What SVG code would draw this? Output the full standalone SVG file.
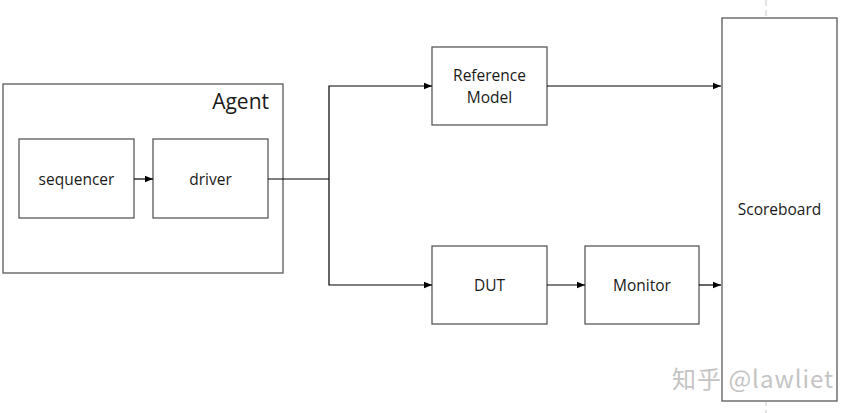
<svg xmlns="http://www.w3.org/2000/svg" width="856" height="413" viewBox="0 0 856 413">
<style>
.box{fill:#fff;stroke:#595959;stroke-width:1.3}
.lbl{font-family:"Open Sans","Noto Sans",sans-serif;font-size:15.5px;fill:#1a1a1a;text-anchor:middle}
.con{fill:none;stroke:#000;stroke-width:1.2}
</style>
<defs>
<marker id="arr" viewBox="0 0 10 10" refX="10" refY="5" markerWidth="10" markerHeight="8" markerUnits="userSpaceOnUse" orient="auto">
<path d="M0,1 L10,5 L0,9 Z" fill="#000"/>
</marker>
</defs>
<rect width="856" height="413" fill="#fff"/>
<line x1="766" y1="0" x2="766" y2="413" stroke="#c8c8c8" stroke-width="1" stroke-dasharray="6,4"/>
<g id="agent">
<rect class="box" x="3" y="84" width="280" height="189"/>
<text x="269" y="109" font-family="'Open Sans','Noto Sans',sans-serif" font-size="21" fill="#1a1a1a" text-anchor="end">Agent</text>
</g>
<g id="sequencer">
<rect class="box" x="19" y="139" width="115" height="79"/>
<text class="lbl" x="76.5" y="184.5">sequencer</text>
</g>
<g id="driver">
<rect class="box" x="153" y="139" width="115" height="79"/>
<text class="lbl" x="210.5" y="184.5">driver</text>
</g>
<g id="refmodel">
<rect class="box" x="432" y="47" width="115" height="78"/>
<text class="lbl" x="489.5" y="80.5">Reference</text>
<text class="lbl" x="489.5" y="102.5">Model</text>
</g>
<g id="dut">
<rect class="box" x="432" y="246" width="115" height="78"/>
<text class="lbl" x="489.5" y="290.5">DUT</text>
</g>
<g id="monitor">
<rect class="box" x="585" y="246" width="114" height="78"/>
<text class="lbl" x="642" y="290.5">Monitor</text>
</g>
<g id="scoreboard">
<rect class="box" x="722" y="18" width="115" height="383"/>
<text class="lbl" x="779.5" y="214.5">Scoreboard</text>
</g>
<g id="connectors">
<line class="con" x1="134" y1="179" x2="153" y2="179" marker-end="url(#arr)"/>
<polyline class="con" points="268,179 329,179"/>
<polyline class="con" points="329,179 329,86 432,86" marker-end="url(#arr)"/>
<polyline class="con" points="329,179 329,285 432,285" marker-end="url(#arr)"/>
<line class="con" x1="547" y1="86" x2="721" y2="86" marker-end="url(#arr)"/>
<line class="con" x1="547" y1="285" x2="585" y2="285" marker-end="url(#arr)"/>
<line class="con" x1="699" y1="285" x2="721" y2="285" marker-end="url(#arr)"/>
</g>
<text x="672" y="388" font-family="'Noto Sans CJK SC','Noto Sans',sans-serif" font-size="24" letter-spacing="1" fill="#c4c4c4">知乎 @lawliet</text>
</svg>
